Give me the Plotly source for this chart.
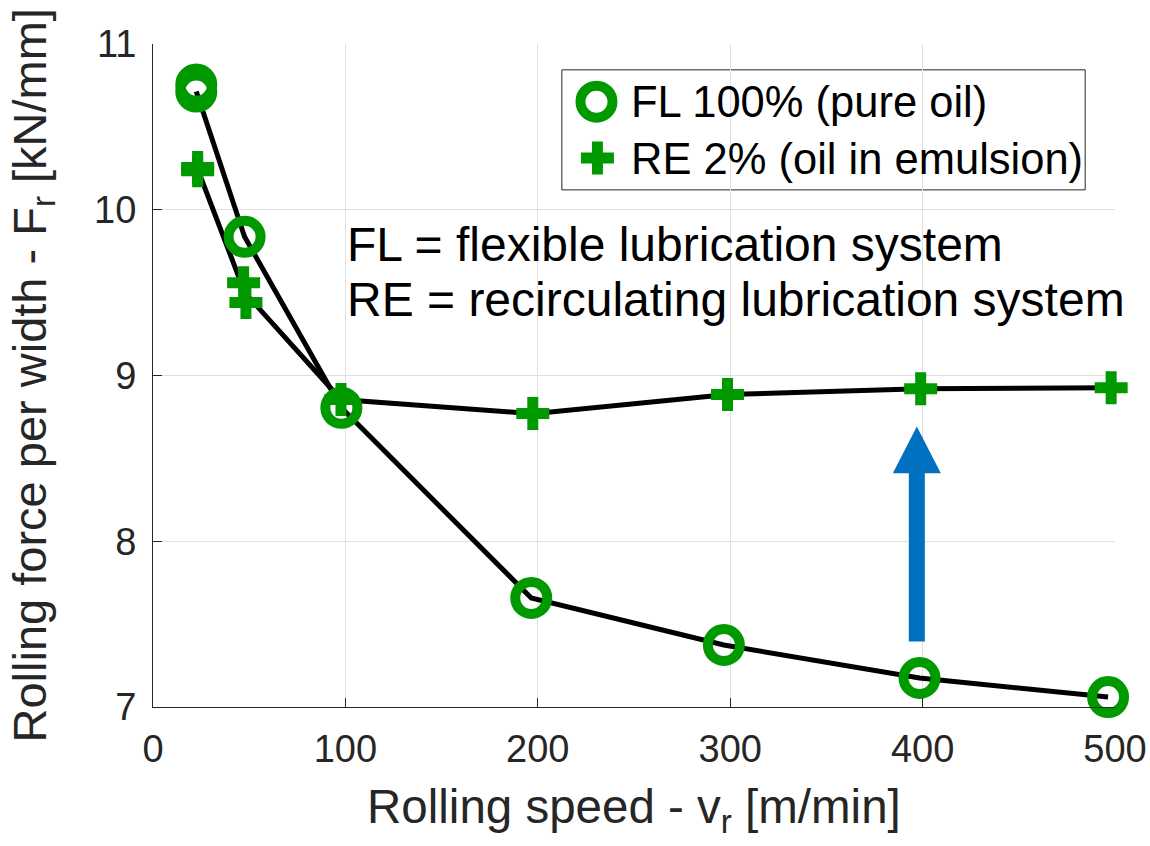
import plotly.graph_objects as go

# Rolling force per width vs. rolling speed for two lubrication systems
# FL 100% (pure oil) — individual measurements and connecting line
fl_speed = [22.5, 22.5, 47.6, 97.9, 196.6, 296.7, 398.4, 496.4]
fl_force = [10.755, 10.713, 9.837, 8.805, 7.658, 7.374, 7.175, 7.06]
fl_line_speed = [22.5, 47.6, 97.9, 196.6, 296.7, 398.4, 496.4]
fl_line_force = [10.713, 9.837, 8.805, 7.658, 7.374, 7.175, 7.06]

# RE 2% (oil in emulsion)
re_speed = [23.2, 23.2, 47.1, 48.3, 97.7, 197.4, 298.6, 399.0, 498.0]
re_force = [10.255, 10.235, 9.56, 9.44, 8.855, 8.77, 8.885, 8.92, 8.926]
re_line_speed = [23.2, 47.7, 97.7, 197.4, 298.6, 399.0, 498.0]
re_line_force = [10.245, 9.50, 8.855, 8.77, 8.885, 8.92, 8.926]

x_ticks = [0, 100, 200, 300, 400, 500]
y_ticks = [7, 8, 9, 10, 11]

legend_labels = ["FL 100% (pure oil)", "RE 2% (oil in emulsion)"]
note_lines = ["FL = flexible lubrication system",
              "RE = recirculating lubrication system"]

# Blue arrow highlighting the force increase at high speed
arrow_speed = 397
arrow_tail, arrow_head_base, arrow_tip = 7.395, 8.411, 8.692

GREEN = "#009900"
BLUE = "#0070C0"
AXIS = "#262626"
FONT = "Arial"

fig = go.Figure()

fig.add_trace(go.Scatter(x=fl_line_speed, y=fl_line_force, mode="lines",
                         line=dict(color="black", width=5), showlegend=False,
                         hoverinfo="skip"))
fig.add_trace(go.Scatter(x=re_line_speed, y=re_line_force, mode="lines",
                         line=dict(color="black", width=5), showlegend=False,
                         hoverinfo="skip"))
fig.add_trace(go.Scatter(x=re_speed, y=re_force, mode="markers",
                         marker=dict(symbol="cross", size=27.5, color=GREEN,
                                     line=dict(width=0)),
                         name=legend_labels[1], showlegend=False, cliponaxis=False))
fig.add_trace(go.Scatter(x=fl_speed, y=fl_force, mode="markers",
                         marker=dict(symbol="circle-open", size=32, color=GREEN,
                                     line=dict(width=10, color=GREEN)),
                         name=legend_labels[0], showlegend=False, cliponaxis=False))

# Legend swatches on an overlay axis in plot-fraction units
fig.add_trace(go.Scatter(x=[0.461], y=[0.913], xaxis="x2", yaxis="y2", mode="markers",
                         marker=dict(symbol="circle-open", size=32, color=GREEN,
                                     line=dict(width=10, color=GREEN)),
                         showlegend=False, hoverinfo="skip", cliponaxis=False))
fig.add_trace(go.Scatter(x=[0.462], y=[0.828], xaxis="x2", yaxis="y2", mode="markers",
                         marker=dict(symbol="cross", size=27.5, color=GREEN,
                                     line=dict(width=0)),
                         showlegend=False, hoverinfo="skip", cliponaxis=False))

shapes = [
    # legend frame
    dict(type="rect", xref="paper", yref="paper", x0=0.425, x1=0.969,
         y0=0.780, y1=0.961, line=dict(color=AXIS, width=1),
         fillcolor="white", layer="between"),
    # arrow: shaft + head, width in pixels, length in data units
    dict(type="path", xref="x", yref="y", xsizemode="pixel", xanchor=arrow_speed,
         path=(f"M -8,{arrow_tail} L 8,{arrow_tail} L 8,{arrow_head_base} "
               f"L 24,{arrow_head_base} L 0,{arrow_tip} L -24,{arrow_head_base} "
               f"L -8,{arrow_head_base} Z"),
         fillcolor=BLUE, line=dict(width=0), layer="between"),
]

annotations = [
    dict(xref="paper", yref="paper", x=0.495, y=0.912, xanchor="left",
         yanchor="middle", text=legend_labels[0], showarrow=False,
         font=dict(size=43.5, color="black", family=FONT)),
    dict(xref="paper", yref="paper", x=0.495, y=0.826, xanchor="left",
         yanchor="middle", text=legend_labels[1], showarrow=False,
         font=dict(size=43.5, color="black", family=FONT)),
    dict(xref="paper", yref="paper", x=0.2, y=0.698, xanchor="left",
         yanchor="middle", text=note_lines[0], showarrow=False,
         font=dict(size=48, color="black", family=FONT)),
    dict(xref="paper", yref="paper", x=0.2, y=0.614, xanchor="left",
         yanchor="middle", text=note_lines[1], showarrow=False,
         font=dict(size=48, color="black", family=FONT)),
    # axis titles
    dict(xref="paper", yref="paper", x=0.5, y=0, yanchor="top", yshift=-71,
         text="Rolling speed - v<sub>r</sub> [m/min]", showarrow=False,
         font=dict(size=47.5, color=AXIS, family=FONT)),
    dict(xref="paper", yref="paper", x=0, y=0.5, xanchor="right", xshift=-89,
         textangle=-90, text="Rolling force per width - F<sub>r</sub> [kN/mm]",
         showarrow=False, font=dict(size=47, color=AXIS, family=FONT)),
]

axis_common = dict(showgrid=True, gridcolor="#e0e0e0", gridwidth=1,
                   showline=True, linecolor=AXIS, linewidth=1,
                   ticks="inside", ticklen=9, tickcolor=AXIS, tickwidth=1,
                   zeroline=False, mirror=False, automargin=False,
                   tickfont=dict(size=38, color=AXIS, family=FONT))

fig.update_layout(
    width=1150, height=846,
    margin=dict(l=153, r=35, t=44, b=139),
    paper_bgcolor="white", plot_bgcolor="white",
    font=dict(family=FONT, color=AXIS),
    xaxis=dict(range=[0, 500], tickvals=x_ticks, ticktext=[str(v) for v in x_ticks],
               ticklabelstandoff=8, **axis_common),
    yaxis=dict(range=[7, 11], tickvals=y_ticks, ticktext=[str(v) for v in y_ticks],
               ticklabelstandoff=8, **axis_common),
    xaxis2=dict(range=[0, 1], overlaying="x", visible=False, fixedrange=True),
    yaxis2=dict(range=[0, 1], overlaying="y", visible=False, fixedrange=True),
    shapes=shapes,
    annotations=annotations,
    showlegend=False,
)

fig.write_html("out.html")
